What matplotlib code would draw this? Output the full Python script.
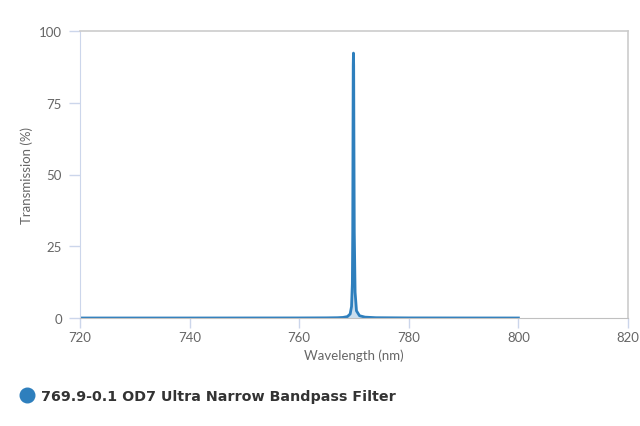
import matplotlib
matplotlib.use("Agg")
import matplotlib.pyplot as plt
from matplotlib.lines import Line2D

wavelength = [720, 740, 760, 765, 767, 768, 768.8, 769.3, 769.55, 769.7, 769.77,
              769.82, 769.86, 769.9, 769.94, 769.98, 770.05, 770.2, 770.45, 771.0,
              772, 774, 780, 790, 800]
transmission = [0.0, 0.0, 0.02, 0.05, 0.1, 0.2, 0.5, 1.4, 4.0, 12.0, 30.0,
                 65.0, 88.0, 92.3, 88.0, 65.0, 30.0, 9.0, 2.5, 0.8,
                 0.3, 0.1, 0.03, 0.01, 0.0]
series_name = "769.9-0.1 OD7 Ultra Narrow Bandpass Filter"
x_ticks = [720, 740, 760, 780, 800, 820]
y_ticks = [0, 25, 50, 75, 100]

color = "#2e7fbd"
text_col = "#666666"

fig = plt.figure(figsize=(6.4, 4.27), dpi=100)
ax = fig.add_axes([0.125, 1 - 319 / 427, (628 - 80) / 640, (319 - 32) / 427])

ax.fill_between(wavelength, transmission, 0, color=color, alpha=0.25, lw=0)
ax.plot(wavelength, transmission, color=color, lw=2, solid_joinstyle="round")

ax.set_xlim(720, 820)
ax.set_ylim(0, 100)
ax.set_xticks(x_ticks)
ax.set_yticks(y_ticks)
ax.set_xticklabels([str(v) for v in x_ticks], fontfamily="Lato", fontsize=9.5, color=text_col)
ax.set_yticklabels([str(v) for v in y_ticks], fontfamily="Lato", fontsize=9.5, color=text_col)
ax.tick_params(axis="y", length=8, width=1, color="#ccd6eb", pad=5)
ax.tick_params(axis="x", length=7, width=1, color="#ccd6eb", pad=2)

for side in ["top", "right"]:
    ax.spines[side].set_color("#cccccc")
    ax.spines[side].set_linewidth(1.2)
ax.spines["left"].set_color("#ccd6eb")
ax.spines["bottom"].set_color("#c0c0c0")

ax.set_xlabel("Wavelength (nm)", fontfamily="Lato", fontsize=9.5, color=text_col, labelpad=4.5)
ax.set_ylabel("Transmission (%)", fontfamily="Lato", fontsize=9.5, color=text_col, labelpad=4)

fig.add_artist(Line2D([27 / 640], [1 - 396 / 427], marker="o", markersize=10.5,
                      color=color, transform=fig.transFigure))
fig.text(41 / 640, 1 - 397 / 427, series_name, fontfamily="DejaVu Sans", fontweight="bold",
         fontsize=10.3, color="#333333", va="center", ha="left")

fig.savefig("out.png", dpi=100)
